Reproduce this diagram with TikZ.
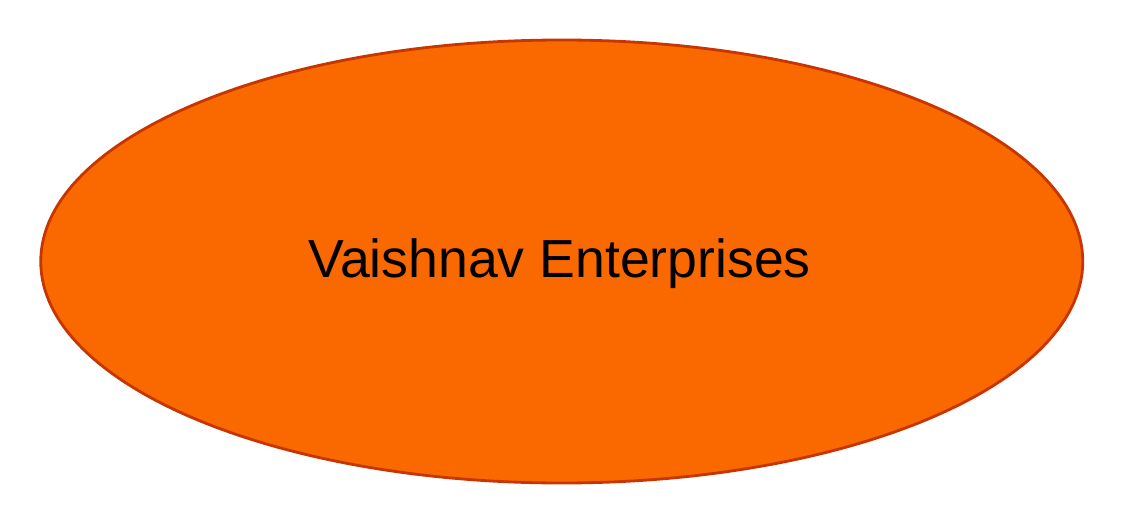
\documentclass[tikz,border=0pt]{standalone}
\usepackage{fontspec}
\setmainfont{Liberation Sans}
\definecolor{vaishfill}{HTML}{FA6800}
\definecolor{vaishline}{HTML}{C73500}
\begin{document}
\begin{tikzpicture}
    \useasboundingbox (0,0) rectangle (11.24,5.28);
    % Ellipse
    \draw[vaishline, line width=0.8pt, fill=vaishfill] (5.6175,2.665) ellipse [x radius=5.21, y radius=2.215];
    % Label
    \node[anchor=base, inner sep=0pt, font=\fontsize{15.25}{18}\selectfont] (firm) at (5.595,2.51) {Vaishnav Enterprises};
\end{tikzpicture}
\end{document}
